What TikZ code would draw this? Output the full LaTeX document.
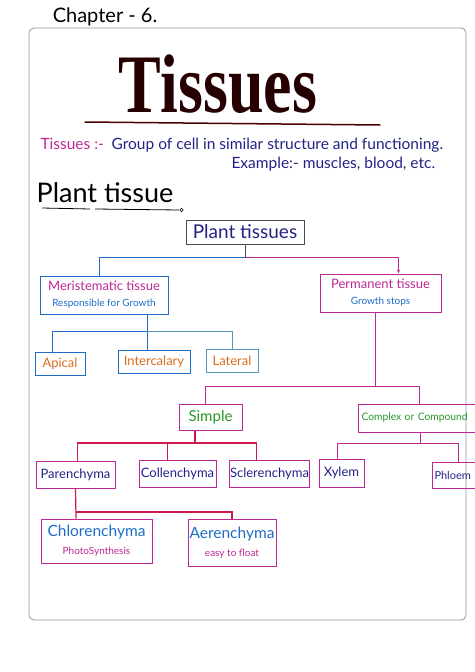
\documentclass[tikz,border=0pt]{standalone}
\usepackage{fontspec}
\setmainfont{Lato}
\newfontfamily\titlefont{Liberation Serif}
\usetikzlibrary{positioning, arrows.meta}

\definecolor{inkblue}{RGB}{35,35,135}
\definecolor{lineblue}{RGB}{30,110,200}
\definecolor{palblue}{RGB}{90,150,190}
\definecolor{inkmag}{RGB}{190,40,150}
\definecolor{inkred}{RGB}{205,25,75}
\definecolor{inkgreen}{RGB}{40,150,40}
\definecolor{inkorange}{RGB}{215,110,30}
\definecolor{pagegray}{RGB}{150,150,150}
\newcommand\subtextfont{\fontsize{10}{11}\selectfont}

\begin{document}
\begin{tikzpicture}[
        x=1pt, y=-1pt,
        tbox/.style={draw, line width=1pt, inner sep=1pt, align=center, text=inkblue, font=\fontsize{13}{15}\selectfont},
        blueline/.style={draw=lineblue, line width=1pt},
        magline/.style={draw=inkmag, line width=1pt},
        redline/.style={draw=inkred, line width=1.2pt}
    ]
        % Page and margins
        \fill[white] (0,0) rectangle (474,672);
        \useasboundingbox (0,0) rectangle (474,672);
        \draw[pagegray, line width=0.8pt, rounded corners=5pt] (29,28) rectangle (466,620);

        % Heading
        \node[font=\fontsize{20}{23}\selectfont] (chapter) at (105,17) {Chapter - 6.};
        \node[font=\titlefont\bfseries\fontsize{64}{64}\selectfont, text=black!85!red] (title) at (218,84) {\scalebox{1}[1.3]{Tissues}};
        \draw[black!70!red, line width=1.5pt, line cap=round] (85,122) -- (380,125);

        % Definition
        \node[anchor=west, text=inkblue, font=\fontsize{15.5}{17}\selectfont] (defn) at (37,145)
            {\textcolor{inkmag}{Tissues :-}\enspace Group of cell in similar structure and functioning.};
        \node[anchor=west, text=inkblue, font=\fontsize{15.5}{17}\selectfont] (example) at (228,164) {Example:- muscles, blood, etc.};

        % Plant tissue
        \node[font=\fontsize{27}{30}\selectfont] (planthead) at (105,193) {Plant tissue};
        \draw[line width=0.8pt] (42,208) -- (90,209);
        \draw[line width=0.8pt] (95,209) -- (179,210);
        \draw[line width=0.6pt] (181.5,210) circle (1.8);

        % Plant tissues
        \node[tbox, draw=black!70, minimum width=118, minimum height=24, font=\fontsize{19}{21}\selectfont] (plant) at (245,232) {Plant tissues};

        % Meristematic and permanent
        \node[tbox, draw=lineblue, minimum width=128, minimum height=38] (mer) at (104,295)
            {\textcolor{inkmag}{Meristematic tissue}\\[1pt]{\subtextfont\textcolor{lineblue}{Responsible for Growth}}};
        \node[tbox, draw=inkmag, minimum width=121, minimum height=38] (perm) at (380.5,293)
            {\textcolor{inkmag}{Permanent tissue}\\[1pt]{\subtextfont\textcolor{lineblue}{Growth stops}}};

        \coordinate (jplant) at (245,257);
        \draw[black!70, line width=1pt] (plant.south) -- (jplant);
        \draw[blueline] (jplant) -| ([xshift=-5]mer.north);
        \draw[magline, -{Stealth[length=4pt]}] (jplant) -| ([xshift=18]perm.north);

        % Meristematic types
        \node[tbox, draw=lineblue, text=inkorange, minimum width=50, minimum height=23] (apical) at (60,363.5) {Apical};
        \node[tbox, draw=lineblue, text=inkorange, minimum width=72, minimum height=23] (inter) at (154,361.5) {Intercalary};
        \node[tbox, draw=palblue, text=inkorange, minimum width=52, minimum height=23] (lateral) at (232,360.5) {Lateral};

        \coordinate (jmer) at (147,331);
        \draw[blueline] (mer.south -| jmer) -- (jmer);
        \draw[blueline] (jmer) -| ([xshift=-8]apical.north);
        \draw[blueline] (jmer) -- (jmer |- inter.north);
        \draw[draw=palblue, line width=1pt] (jmer) -| (lateral.north);

        % Simple and complex
        \node[tbox, draw=inkmag, text=inkgreen, minimum width=63, minimum height=26, font=\fontsize{15}{17}\selectfont] (simple) at (210.5,417) {Simple};
        \node[tbox, draw=inkmag, text=inkgreen, anchor=west, text width=124, align=left, inner sep=3pt, minimum height=28, font=\fontsize{10.3}{12}\selectfont] (complex) at (358,418) {Complex or Compound};

        \coordinate (jperm) at (375,386);
        \draw[magline] (perm.south -| jperm) -- (jperm);
        \draw[magline] (jperm) -| ([xshift=-5]simple.north);
        \draw[magline] (jperm) -| ([xshift=61]complex.north west);

        % Simple tissues
        \node[tbox, draw=inkmag, minimum width=79, minimum height=27] (paren) at (75.5,474.5) {Parenchyma};
        \node[tbox, draw=inkmag, minimum width=77, minimum height=27] (collen) at (177.5,473.5) {Collenchyma};
        \node[tbox, draw=inkmag, minimum width=77, minimum height=27] (scler) at (269.5,473.5) {Sclerenchyma};

        \coordinate (jsimple) at (195,443);
        \draw[redline] (simple.south -| jsimple) -- (jsimple);
        \draw[redline] (jsimple) -| ([xshift=2]paren.north);
        \draw[redline] (jsimple) -| ([xshift=-13]scler.north);
        \draw[redline] ([xshift=-10]collen.north |- jsimple) -- ([xshift=-10]collen.north);

        % Complex tissues
        \node[tbox, draw=inkmag, minimum width=45, minimum height=28] (xylem) at (341.5,473) {Xylem};
        \node[tbox, draw=inkmag, anchor=west, text width=44, align=left, inner sep=2pt, minimum height=26, font=\fontsize{11}{13}\selectfont] (phloem) at (432,475) {Phloem};

        \coordinate (jcomplex) at (420,443);
        \draw[magline] (jcomplex |- complex.south) -- (jcomplex);
        \draw[magline] (jcomplex) -| ([xshift=-4]xylem.north);
        \draw[magline] (jcomplex) -| ([xshift=26]phloem.north west);

        % Parenchyma types
        \node[tbox, draw=inkmag, minimum width=111, minimum height=44, font=\fontsize{15.5}{17}\selectfont] (chloro) at (96.5,541)
            {\textcolor{lineblue}{Chlorenchyma}\\[1pt]{\subtextfont\textcolor{inkmag}{PhotoSynthesis}}};
        \node[tbox, draw=inkmag, minimum width=88, minimum height=47, font=\fontsize{15.5}{17}\selectfont] (aeren) at (232,542.5)
            {\textcolor{lineblue}{Aerenchyma}\\[1pt]{\subtextfont\textcolor{inkmag}{easy to float}}};

        \coordinate (jparen) at (76,512);
        \draw[redline] (paren.south) -- (chloro.north -| jparen);
        \draw[redline] (jparen) -| (aeren.north);
    \end{tikzpicture}
\end{document}
